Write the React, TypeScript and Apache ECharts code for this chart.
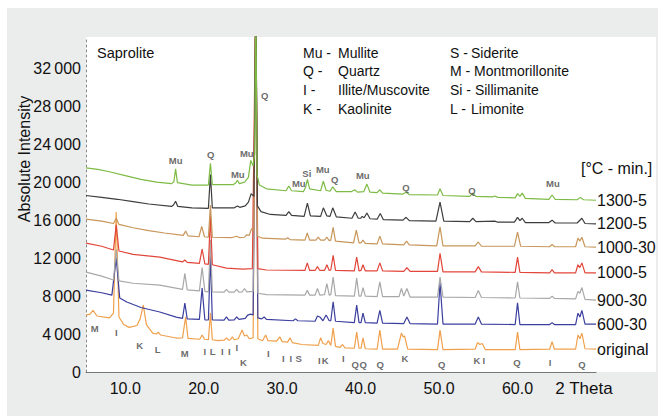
import React, { useEffect, useRef } from 'react';
import * as echarts from 'echarts';

const FONT = '"Liberation Sans", Arial, Helvetica, sans-serif';

const xTicks = [10, 20, 30, 40, 50, 60];
const yTicks = [0, 4000, 8000, 12000, 16000, 20000, 24000, 28000, 32000];

const seriesNames = ['original', '600-30', '900-30', '1000-5', '1000-30', '1200-5', '1300-5'];
const seriesColors = ['#f0a04c', '#3b3f9e', '#a8a8a8', '#e2463a', '#c8965a', '#3d3d3d', '#7dbb45'];

const s1300_5 = [[5,21500],[6.5,21350],[8,21100],[10,20700],[12,20300],[14,20000],[15.9,19850],[16.2,20050],[16.42,21400],[16.65,19950],[18.5,19700],[20.6,19700],[20.86,22000],[21.1,19750],[23.8,19750],[24.1,19950],[24.3,20200],[24.55,19850],[25.2,20000],[25.7,20500],[26.0,22300],[26.3,21700],[26.5,23000],[26.64,40000],[26.8,20800],[27.1,19700],[28,19300],[30.5,19100],[30.85,19600],[31.2,19100],[32.7,19000],[33.0,19500],[33.22,20300],[33.5,19300],[34.9,19100],[35.25,20100],[35.6,19150],[36.1,19050],[36.45,19500],[36.9,19000],[38.8,19000],[39.25,19200],[39.6,18950],[40.4,19000],[40.8,19800],[41.2,18950],[42.1,18900],[42.45,19200],[42.8,18850],[45.4,18750],[45.8,18950],[46.2,18700],[49.8,18650],[50.12,19300],[50.5,18600],[53.9,18500],[54.3,18850],[54.7,18500],[56.8,18450],[57.1,18550],[57.5,18400],[59.7,18350],[60.0,18800],[60.3,18500],[60.6,18850],[61.0,18300],[64.0,18200],[64.4,18650],[64.8,18200],[67.6,18150],[68.0,18400],[68.4,18150],[70,18100]];

const s1200_5 = [[5,18600],[7,18400],[9,18200],[11,17950],[13,17700],[15.9,17450],[16.15,17600],[16.42,18000],[16.7,17450],[18.5,17300],[20.6,17250],[20.86,20800],[21.1,17300],[23.9,17300],[24.3,17500],[24.6,17350],[25.3,17500],[25.7,17900],[26.05,18800],[26.4,18500],[26.64,40000],[26.85,17500],[27.3,16900],[28.5,16600],[30.5,16500],[30.85,16900],[31.2,16500],[32.8,16400],[33.22,17800],[33.6,16450],[34.9,16400],[35.25,17300],[35.7,16450],[36.1,16400],[36.45,17300],[36.9,16350],[38.9,16200],[39.3,16850],[39.7,16200],[40.0,16200],[40.2,16400],[40.45,16250],[40.8,16750],[41.2,16150],[42.1,16100],[42.5,16700],[42.9,16050],[45.4,16000],[45.8,16300],[46.2,15950],[49.6,15900],[50.12,17900],[50.6,15900],[53.9,15850],[54.3,16200],[54.7,15850],[57.1,15900],[57.4,15800],[59.6,15800],[60.0,16300],[60.3,15950],[60.6,16200],[61.0,15750],[64.0,15750],[64.4,16000],[64.8,15700],[67.6,15700],[68.2,16200],[68.6,15650],[70,15600]];

const s1000_30 = [[5,16100],[7,15900],[8.5,15650],[8.85,16200],[9.2,15550],[11,15200],[13,14900],[15,14650],[17.4,14400],[17.7,14850],[18.0,14350],[19.4,14250],[19.75,15350],[20.1,14250],[20.6,14200],[20.86,17600],[21.1,14200],[23.5,14150],[24.2,14300],[24.6,14150],[25.2,14200],[25.45,14450],[25.8,14400],[26.1,15100],[26.4,14900],[26.64,40000],[26.85,14300],[27.5,14100],[30.4,14000],[30.7,14150],[31.0,13950],[32.9,13900],[33.2,14650],[33.5,13900],[34.3,13900],[34.6,14200],[34.9,13900],[35.4,13900],[35.7,14200],[36.0,13850],[36.2,13900],[36.5,15250],[36.8,13800],[39.1,13600],[39.45,14950],[39.8,13600],[40.05,13600],[40.3,13900],[40.6,13550],[42.1,13500],[42.45,14300],[42.8,13500],[45.5,13400],[45.85,13800],[46.2,13400],[49.7,13300],[50.12,15300],[50.5,13300],[54.6,13300],[55.0,13700],[55.4,13250],[59.6,13250],[60.0,14750],[60.4,13250],[64.1,13200],[64.4,13450],[64.7,13200],[67.4,13200],[67.7,14100],[67.95,13800],[68.2,14200],[68.6,13200],[70,13150]];

const s1000_5 = [[5,13580],[7,13250],[8.5,12850],[8.85,15500],[9.2,12750],[11,12400],[14.4,12100],[17.3,11600],[17.6,11800],[17.9,11550],[19.45,11450],[19.8,12950],[20.15,11400],[20.6,11350],[20.86,16500],[21.1,11300],[22.9,10950],[25,10850],[26.2,10900],[26.64,40000],[26.9,10900],[28,10750],[32.9,10700],[33.2,11500],[33.5,10700],[34.2,10700],[34.5,11100],[34.8,10700],[35.4,10700],[35.7,11300],[36.0,10700],[36.2,10750],[36.5,12300],[36.8,10700],[39.2,10650],[39.5,12100],[39.8,10650],[40.05,10700],[40.3,11300],[40.6,10650],[42.1,10650],[42.45,11500],[42.8,10650],[45.5,10600],[45.9,11000],[46.3,10600],[49.8,10600],[50.12,12500],[50.5,10550],[54.6,10550],[55.0,11100],[55.4,10550],[59.7,10500],[60.0,12100],[60.3,10500],[64.1,10450],[64.4,10800],[64.7,10450],[67.4,10450],[67.7,11300],[67.95,11000],[68.2,11500],[68.6,10450],[70,10450]];

const s900_30 = [[5,10530],[7,10100],[8.5,9700],[8.85,12900],[9.2,9600],[11,9350],[14.4,9150],[17.3,8700],[17.6,10400],[17.9,8650],[19.45,8550],[19.8,11000],[20.15,8500],[20.6,8450],[20.86,13900],[21.1,8450],[22.6,8420],[22.9,8700],[23.2,8420],[23.9,8420],[24.2,8700],[24.5,8420],[24.9,8450],[25.2,8800],[25.5,8450],[26.3,8500],[26.64,40000],[26.9,8300],[28,8150],[32.9,8100],[33.2,8600],[33.5,8100],[34.2,8100],[34.5,8800],[34.8,8100],[35.4,8150],[35.7,9300],[36.0,8100],[36.2,8150],[36.5,10000],[36.8,8050],[39.2,8000],[39.5,9900],[39.8,8000],[40.05,8000],[40.3,8900],[40.6,8000],[42.1,7950],[42.45,9500],[42.8,7950],[44.9,7950],[45.2,8800],[45.5,8000],[45.9,8800],[46.3,7900],[49.8,7900],[50.12,10000],[50.5,7900],[54.6,7850],[55.0,8600],[55.4,7850],[59.7,7800],[60.0,9500],[60.3,7800],[64.1,7750],[64.4,8000],[64.7,7750],[67.4,7700],[67.7,8500],[67.95,8300],[68.2,8900],[68.6,7650],[70,7580]];

const s600_30 = [[5,8630],[7,8350],[8.3,8100],[8.85,12000],[9.3,7800],[10.2,7370],[12,6800],[14.4,6320],[16.5,5790],[17.3,5650],[17.6,7260],[17.9,5600],[19.45,5550],[19.8,8840],[20.15,5500],[20.6,5480],[20.86,12300],[21.1,5480],[22.6,5470],[22.9,5800],[23.2,5470],[23.9,5500],[24.2,5800],[24.5,5550],[25.3,5650],[25.6,6000],[26.0,6100],[26.3,6000],[26.64,40000],[26.9,5700],[27.4,5600],[27.7,5800],[28.0,5550],[31.4,5400],[31.7,5600],[32.0,5400],[34.2,5350],[34.5,5900],[34.8,5800],[35.2,5400],[35.6,6000],[36.0,5400],[36.2,5400],[36.5,7400],[36.8,5350],[39.2,5200],[39.5,7050],[39.8,5200],[40.05,5200],[40.3,6200],[40.6,5200],[42.1,5150],[42.45,6500],[42.8,5150],[45.5,5100],[45.9,5800],[46.3,5100],[49.8,5050],[50.12,9400],[50.5,5050],[54.6,5050],[55.0,5800],[55.4,5050],[59.7,5000],[60.0,7300],[60.3,5000],[64.1,5000],[64.4,5200],[64.7,5000],[67.4,5000],[67.7,6200],[67.95,5800],[68.2,6500],[68.6,5050],[70,5050]];

const sOriginal = [[5,6000],[5.5,6100],[5.9,6500],[6.4,5900],[8.0,5700],[8.5,6200],[8.85,16850],[9.2,5800],[9.8,5000],[10.5,4700],[11.5,4900],[11.9,5600],[12.3,7050],[12.7,5000],[13.5,4100],[14.0,4000],[14.2,4200],[14.5,3900],[16.5,3580],[17.3,3600],[17.7,5800],[18.0,3550],[19.5,3450],[19.8,3900],[20.1,3450],[20.6,3400],[20.86,6200],[21.1,3400],[21.8,3300],[22.6,3350],[22.9,3600],[23.2,3350],[23.4,3400],[23.65,3700],[23.9,3400],[24.4,3500],[24.9,4420],[25.2,3800],[25.5,3900],[25.8,3500],[26.3,3600],[26.64,40000],[26.9,3500],[27.5,3300],[27.9,3900],[28.2,3300],[29.3,3250],[29.7,3700],[30.0,3200],[30.7,3150],[31.0,3600],[31.3,3100],[32.5,2900],[34.6,2800],[34.9,3600],[35.2,3000],[35.6,2900],[35.9,3300],[36.2,2800],[36.5,4630],[36.8,2700],[37.4,2600],[37.7,2900],[38.0,2550],[39.2,2500],[39.5,4210],[39.8,2500],[40.05,2500],[40.3,3600],[40.6,2450],[42.1,2400],[42.45,4420],[42.8,2400],[44.7,2400],[45.2,4100],[45.4,3700],[45.6,3800],[46.0,2400],[49.8,2350],[50.12,4420],[50.5,2350],[54.6,2400],[54.9,3100],[55.2,2900],[55.5,3000],[55.9,2350],[59.7,2350],[60.0,4210],[60.3,2350],[64.1,2400],[64.4,3200],[64.7,2400],[67.4,2400],[67.7,3900],[67.95,3500],[68.2,4100],[68.6,2450],[70,2420]];

const seriesData = [sOriginal, s600_30, s900_30, s1000_5, s1000_30, s1200_5, s1300_5];

// peak annotations [2theta, intensity, text]
const topMarks = [[16.43,22320,'Mu'],[20.89,22950,'Q'],[25.49,23060,'Mu'],[24.34,20850,'Mu'],[27.78,29170,'Q'],[32.12,19900,'Mu'],[33.14,20950,'Si'],[35.18,21380,'Mu'],[36.71,20320,'Q'],[40.28,20740,'Mu'],[45.77,19480,'Q'],[54.18,19160,'Q'],[64.51,19900,'Mu']];
const bottomMarks = [[6.1,4630,'M'],[8.86,4110,'I'],[11.84,2840,'K'],[14.13,2420,'L'],[17.58,2000,'M'],[20.13,2210,'I'],[21.15,2210,'L'],[22.36,2210,'I'],[23.25,2210,'I'],[24.21,2530,'I'],[25.06,1050,'K'],[28.23,2000,'I'],[30.14,1370,'I'],[31.1,1370,'I'],[32.12,1370,'S'],[34.73,1260,'I'],[35.5,1260,'K'],[37.79,1470,'I'],[39.32,840,'Q'],[40.34,840,'Q'],[42.51,840,'Q'],[45.64,1370,'K'],[50.32,840,'Q'],[54.82,1260,'K'],[55.71,1260,'I'],[59.92,1050,'Q'],[64.13,1050,'I'],[68.21,840,'Q']];

const legendCol1 = [['Mu -', 'Mullite'], ['Q -', 'Quartz'], ['I -', 'Illite/Muscovite'], ['K -', 'Kaolinite']];
const legendCol2 = [['S -', 'Siderite'], ['M - Montmorillonite', ''], ['Si - Sillimanite', ''], ['L -', 'Limonite']];

function txt(x: number, y: number, text: string, size: number, align = 'left', extra: any = {}) {
  return {
    type: 'text', x, y, z: 50, silent: true,
    style: {
      text, fontSize: size, fontFamily: FONT, fill: '#111',
      align, verticalAlign: 'middle', textAlign: align, textVerticalAlign: 'middle',
    },
    ...extra,
  };
}

export default function App() {
  const ref = useRef<HTMLDivElement>(null);
  useEffect(() => {
    if (!ref.current) return;
    const chart = echarts.init(ref.current, undefined, { renderer: 'svg' });
    const graphics: any[] = [
      { type: 'rect', z: -10, silent: true, shape: { x: 7, y: 8, width: 651, height: 408 }, style: { fill: '#ebecec' } },
      { type: 'rect', z: -9, silent: true, shape: { x: 86, y: 37, width: 570, height: 335 }, style: { fill: '#ffffff' } },
      txt(97, 52.5, 'Saprolite', 14.5),
      txt(24, 159, 'Absolute Intensity', 16, 'center', { rotation: Math.PI / 2 }),
      txt(584, 388, '2 Theta', 17, 'center'),
      txt(581, 168, '[°C - min.]', 16),
    ];
    legendCol1.forEach((r, i) => {
      graphics.push(txt(303, 52.5 + 18.9 * i, r[0], 14));
      graphics.push(txt(338, 52.5 + 18.9 * i, r[1], 14));
    });
    legendCol2.forEach((r, i) => {
      graphics.push(txt(450, 52.5 + 18.9 * i, r[0], 14));
      if (r[1]) graphics.push(txt(471, 52.5 + 18.9 * i, r[1], 14));
    });

    const lineSeries = seriesNames.map((name, i) => ({
      name,
      type: 'line',
      data: seriesData[i],
      showSymbol: false,
      symbol: 'none',
      clip: true,
      color: seriesColors[i],
      lineStyle: { width: 1.2, color: seriesColors[i] },
      endLabel: {
        show: true, formatter: '{a}', distance: 1,
        fontSize: 16, fontFamily: FONT, color: '#111',
      },
      z: 2 + i,
    }));

    const markSeries = [topMarks, bottomMarks].map((d) => ({
      type: 'scatter',
      data: d,
      symbolSize: 0,
      silent: true,
      z: 20,
      label: {
        show: true, position: 'inside',
        formatter: (p: any) => p.value[2],
        fontSize: 9.5, fontWeight: 'bold', fontFamily: FONT, color: '#444',
      },
    }));

    chart.setOption({
      animation: false,
      backgroundColor: '#ffffff',
      grid: { left: 86, right: 62, top: 37, bottom: 44 },
      xAxis: {
        type: 'value', min: 5, max: 70,
        axisLine: { show: true, lineStyle: { color: '#777', width: 1 } },
        axisTick: { show: false },
        splitLine: { show: false },
        axisLabel: {
          customValues: xTicks, margin: 8,
          formatter: (v: number) => v.toFixed(1),
          fontSize: 16, fontFamily: FONT, color: '#111',
        },
      },
      yAxis: {
        type: 'value', min: 0, max: 35300,
        axisLine: { show: true, lineStyle: { color: '#888', width: 1, type: [2, 3] } },
        axisTick: { show: false },
        splitLine: { show: false },
        axisLabel: {
          customValues: yTicks, margin: 5,
          formatter: (v: number) => (v === 0 ? '0' : `${Math.round(v / 1000)}\u2009000`),
          fontSize: 16, fontFamily: FONT, color: '#111',
        },
      },
      graphic: graphics,
      series: [...lineSeries, ...markSeries],
    });
    return () => chart.dispose();
  }, []);
  return <div ref={ref} style={{ position: 'absolute', left: 0, top: 0, width: 658, height: 416 }} />;
}
